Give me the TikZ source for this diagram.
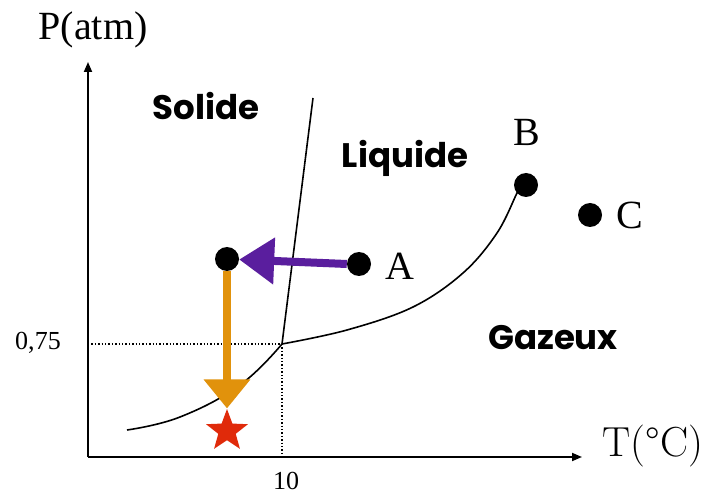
\documentclass[tikz,border=0pt]{standalone}
\usepackage{fontspec}
\usetikzlibrary{arrows.meta,shapes.geometric}
\newfontfamily\labfont{Poppins}
\newfontfamily\serfont{Liberation Serif}
\definecolor{arrpurple}{HTML}{5A1E9E}
\definecolor{arrorange}{HTML}{E1920C}
\definecolor{starred}{HTML}{E02A0A}
\tikzset{
  dot/.style={circle,fill=black,inner sep=0pt,minimum size=24pt},
  phase/.style={font=\labfont\bfseries\fontsize{34}{36}\selectfont,inner sep=0pt},
  ptlabel/.style={font=\serfont\fontsize{40}{44}\selectfont,inner sep=0pt},
  tick/.style={font=\serfont\fontsize{26}{28}\selectfont,inner sep=0pt},
  axis/.style={line width=1.8pt,-{Triangle[length=10pt,width=8pt]}},
  curve/.style={line width=1.6pt},
  guide/.style={line width=1.4pt,dotted},
  bigarrow/.style={line width=8pt,-{Triangle[length=35pt,width=45pt]}},
  downarrow/.style={line width=8pt,-{Triangle[length=29pt,width=45pt]}}
}
\begin{document}
\begin{tikzpicture}[x=1pt,y=-1pt]
\useasboundingbox[fill=white] (0,0) rectangle (720,494);
% axes
\coordinate (O) at (88,457);
\coordinate (Ytop) at (88,62);
\coordinate (Xend) at (582,457);
\draw[axis] (O) -- (Ytop);
\draw[axis] (O) -- (Xend);
\node[font=\serfont\fontsize{40}{44}\selectfont,inner sep=0pt] (Plab) at (93,30) {P(atm)};
\node[font=\fontsize{42}{44}\selectfont,inner sep=0pt] (Tlab) at (653,446) {T(°C)};
% triple point and guides
\coordinate (TP) at (282,344);
\coordinate (Yg) at (88,344);
\coordinate (Xg) at (282,457);
\draw[guide] (Yg) -- (TP);
\draw[guide] (TP) -- (Xg);
\node[tick] (t075) at (38,343) {0,75};
\node[tick] (t10) at (286,481) {10};
% curves
\coordinate (Stop) at (313,98);
\draw[curve] (TP) -- (Stop);
\draw[curve] plot[smooth,tension=0.7] coordinates {(127,430) (180,417) (240,385) (282,344)};
% points
\node[dot] (L) at (227,259) {};
\node[dot] (A) at (359,264) {};
\node[dot] (B) at (526,185) {};
\node[dot] (C) at (590,215) {};
\draw[curve] plot[smooth,tension=0.6] coordinates {(282,344) (347,330) (413,307) (463,273) (497,233) (517,193) (521,186)};
\node[ptlabel] (Alab) at (400,266) {A};
\node[ptlabel] (Blab) at (527,132) {B};
\node[ptlabel] (Clab) at (630,215) {C};
% phases
\node[phase] (sol) at (206,106) {Solide};
\node[phase] (liq) at (405,158) {Liquide};
\node[phase] (gaz) at (553,338) {Gazeux};
% star
\node[star,star points=5,star point ratio=2.4,fill=starred,inner sep=0pt,minimum size=44pt] (S) at (227,431) {};
% arrows
\draw[bigarrow,arrpurple] (A.west) -- (L);
\draw[downarrow,arrorange] (L.south) -- (S.north);
\end{tikzpicture}
\end{document}
